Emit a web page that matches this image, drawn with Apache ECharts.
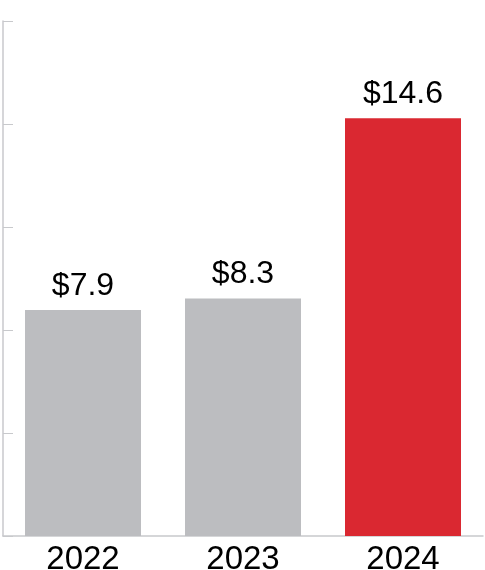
<!DOCTYPE html>
<html>
<head>
<meta charset="utf-8">
<script src="https://cdn.jsdelivr.net/npm/echarts@6/dist/echarts.min.js"></script>
<style>
html,body{margin:0;padding:0;background:#fff;}
#chart{width:485px;height:570px;}
</style>
</head>
<body>
<div id="chart"></div>
<script>
const categories = ['2022', '2023', '2024'];
const values = [7.9, 8.3, 14.6];
const barColors = ['#BCBDC0', '#BCBDC0', '#DA2831'];
const labelTexts = ['$7.9', '$8.3', '$14.6'];

const chart = echarts.init(document.getElementById('chart'), null, {renderer: 'canvas'});
chart.setOption({
  animation: false,
  backgroundColor: '#ffffff',
  grid: {left: 3, right: 2, top: 21, bottom: 34, containLabel: false, outerBoundsMode: 'none'},
  xAxis: {
    type: 'category',
    data: categories,
    axisLine: {show: true, lineStyle: {color: '#C8C9CC', width: 1.5}},
    axisTick: {show: false},
    axisLabel: {color: '#000', fontSize: 33, fontFamily: '"Liberation Sans", Arial, sans-serif', margin: 7}
  },
  yAxis: {
    type: 'value',
    min: 0,
    max: 18,
    interval: 3.6,
    axisLine: {show: true, lineStyle: {color: '#C8C9CC', width: 1.5}},
    axisTick: {show: true, inside: true, length: 10, lineStyle: {color: '#C8C9CC', width: 1}},
    axisLabel: {show: false},
    splitLine: {show: false}
  },
  series: [{
    type: 'bar',
    barWidth: '72.5%',
    data: values.map((v, i) => ({value: v, itemStyle: {color: barColors[i]}})),
    label: {
      show: true,
      position: 'top',
      distance: 8,
      color: '#000',
      fontSize: 32,
      fontFamily: '"Liberation Sans", Arial, sans-serif',
      formatter: p => labelTexts[p.dataIndex]
    }
  }]
});
</script>
</body>
</html>
